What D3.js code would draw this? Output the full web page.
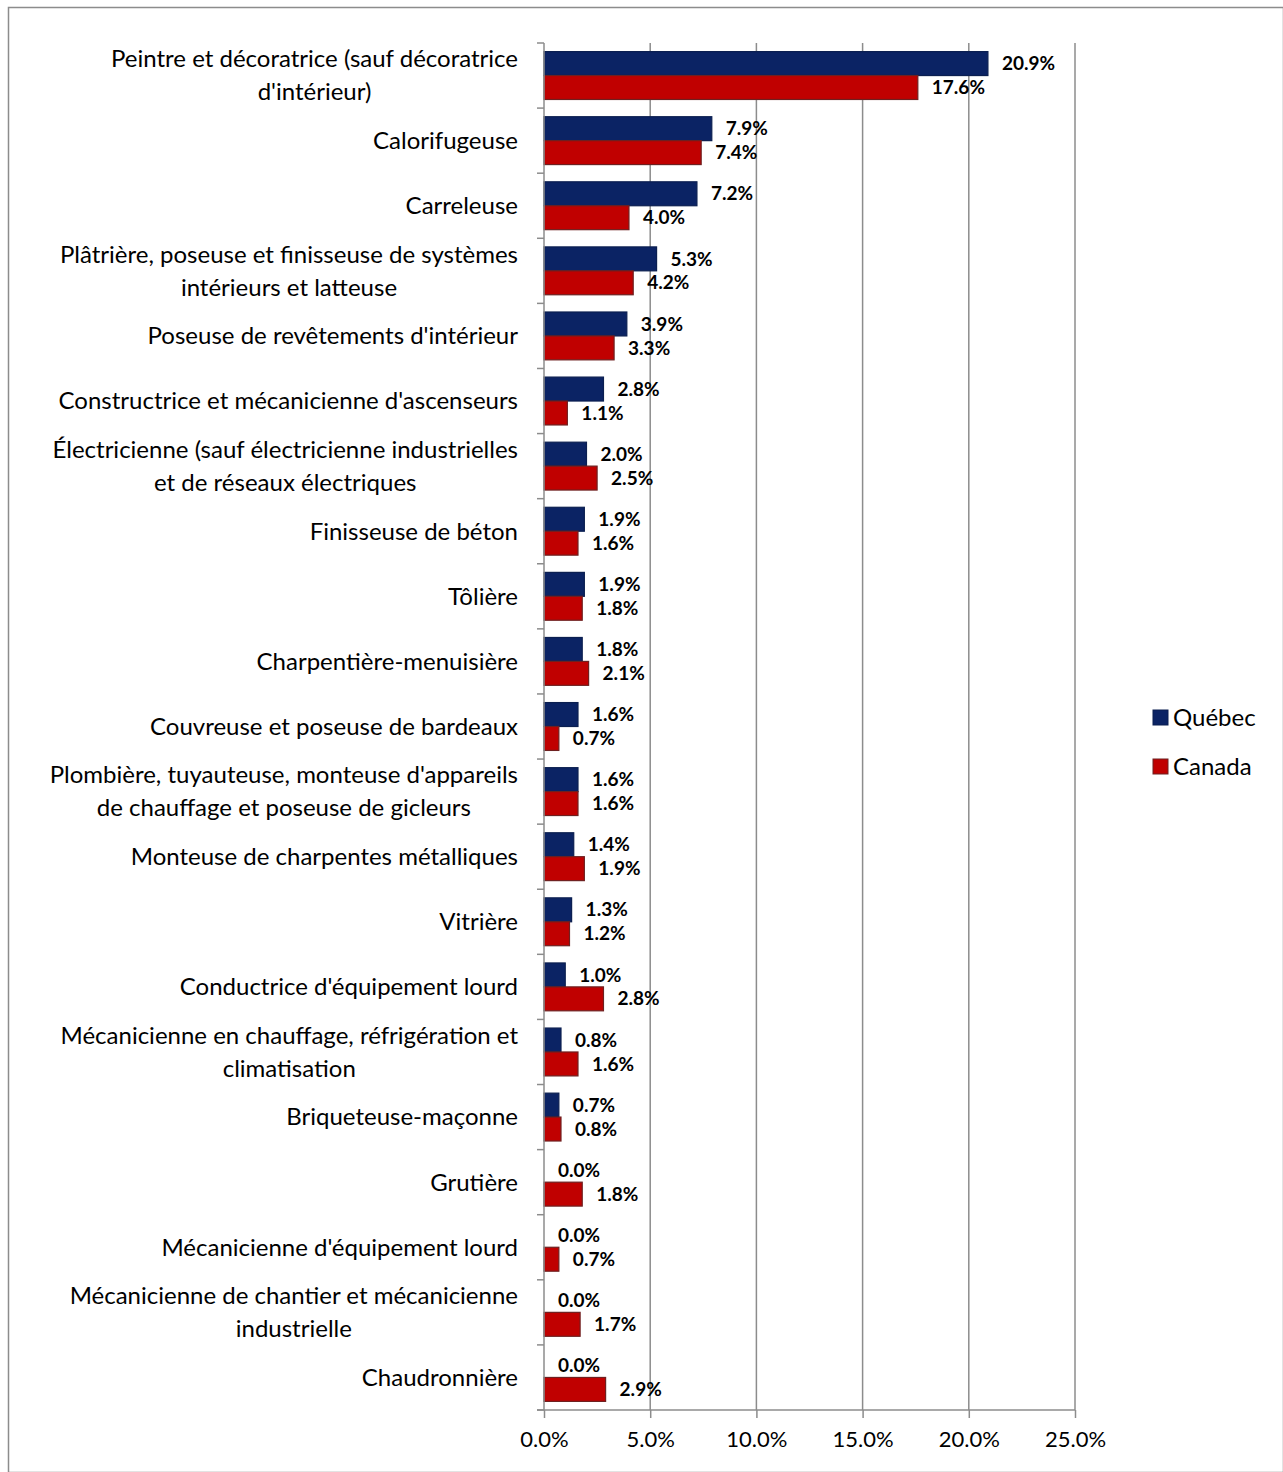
<!DOCTYPE html>
<html>
<head>
<meta charset="utf-8">
<script src="https://cdn.jsdelivr.net/npm/d3@7"></script>
<style>
  body { margin: 0; background: #fff; }
  text { font-family: Lato, "Open Sans", sans-serif; }
</style>
</head>
<body>
<div id="chart"></div>
<script>
// categories (one entry per line of the wrapped label)
var categories = [
  ["Peintre et décoratrice (sauf décoratrice", "d'intérieur)"],
  ["Calorifugeuse"],
  ["Carreleuse"],
  ["Plâtrière, poseuse et finisseuse de systèmes", "intérieurs et latteuse"],
  ["Poseuse de revêtements d'intérieur"],
  ["Constructrice et mécanicienne d'ascenseurs"],
  ["Électricienne (sauf électricienne industrielles", "et de réseaux électriques"],
  ["Finisseuse de béton"],
  ["Tôlière"],
  ["Charpentière-menuisière"],
  ["Couvreuse et poseuse de bardeaux"],
  ["Plombière, tuyauteuse, monteuse d'appareils", "de chauffage et poseuse de gicleurs"],
  ["Monteuse de charpentes métalliques"],
  ["Vitrière"],
  ["Conductrice d'équipement lourd"],
  ["Mécanicienne en chauffage, réfrigération et", "climatisation"],
  ["Briqueteuse-maçonne"],
  ["Grutière"],
  ["Mécanicienne d'équipement lourd"],
  ["Mécanicienne de chantier et mécanicienne", "industrielle"],
  ["Chaudronnière"]
];
var quebec = [20.9, 7.9, 7.2, 5.3, 3.9, 2.8, 2.0, 1.9, 1.9, 1.8, 1.6, 1.6, 1.4, 1.3, 1.0, 0.8, 0.7, 0.0, 0.0, 0.0, 0.0];
var canada = [17.6, 7.4, 4.0, 4.2, 3.3, 1.1, 2.5, 1.6, 1.8, 2.1, 0.7, 1.6, 1.9, 1.2, 2.8, 1.6, 0.8, 1.8, 0.7, 1.7, 2.9];
var seriesNames = ["Québec", "Canada"];
var xTicks = [0, 5, 10, 15, 20, 25];

var W = 1283, H = 1472;
var plotLeft = 544, plotRight = 1075, plotTop = 43, plotBottom = 1410;
var colors = ["#0b2364", "#c00000"];
var strokes = ["#0b1f50", "#6e2020"];

var svg = d3.select("#chart").append("svg").attr("width", W).attr("height", H);

// outer frame
svg.append("rect").attr("x", 8.5).attr("y", 7.5).attr("width", W - 8).attr("height", H - 7)
  .attr("fill", "none").attr("stroke", "#8c8c8c").attr("stroke-width", 1.5);

var x = d3.scaleLinear().domain([0, 25]).range([plotLeft, plotRight]);
var y = d3.scaleBand().domain(d3.range(categories.length)).range([plotTop, plotBottom]);
var inner = d3.scaleBand().domain([0, 1]).range([0, y.bandwidth()]).paddingOuter(0.36).paddingInner(0);

// vertical gridlines
svg.append("g").selectAll("line").data(xTicks.slice(1)).enter().append("line")
  .attr("x1", function (d) { return x(d); }).attr("x2", function (d) { return x(d); })
  .attr("y1", plotTop).attr("y2", plotBottom)
  .attr("stroke", "#8c8c8c").attr("stroke-width", 1.5);

// bars
var groups = svg.append("g").selectAll("g").data(categories).enter().append("g")
  .attr("transform", function (d, i) { return "translate(0," + y(i) + ")"; });

[quebec, canada].forEach(function (vals, s) {
  groups.append("rect")
    .attr("x", x(0))
    .attr("y", inner(s))
    .attr("width", function (d, i) { return x(vals[i]) - x(0); })
    .attr("height", inner.bandwidth())
    .attr("fill", colors[s])
    .attr("stroke", function (d, i) { return vals[i] > 0 ? strokes[s] : "none"; })
    .attr("stroke-width", 1.2);

  groups.append("text")
    .attr("x", function (d, i) { return x(vals[i]) + 14; })
    .attr("y", inner(s) + inner.bandwidth() / 2)
    .attr("dy", "0.35em")
    .attr("font-size", 19)
    .attr("font-weight", "bold")
    .attr("fill", "#000")
    .text(function (d, i) { return vals[i].toFixed(1) + "%"; });
});

// y axis line + ticks
svg.append("line").attr("x1", plotLeft).attr("x2", plotLeft).attr("y1", plotTop).attr("y2", plotBottom)
  .attr("stroke", "#8c8c8c").attr("stroke-width", 1.5);
svg.append("g").selectAll("line").data(d3.range(categories.length + 1)).enter().append("line")
  .attr("x1", plotLeft - 7).attr("x2", plotLeft)
  .attr("y1", function (d) { return plotTop + d * y.step(); })
  .attr("y2", function (d) { return plotTop + d * y.step(); })
  .attr("stroke", "#8c8c8c").attr("stroke-width", 1.5);

// x axis
var xAxis = svg.append("g").attr("transform", "translate(0," + plotBottom + ")")
  .call(d3.axisBottom(x).tickValues(xTicks).tickSize(8).tickPadding(13)
    .tickFormat(function (d) { return d.toFixed(1) + "%"; }));
xAxis.selectAll("path, line").attr("stroke", "#8c8c8c").attr("stroke-width", 1.5);
xAxis.select(".domain").attr("d", "M" + (plotLeft - 7) + ",0H" + plotRight);
xAxis.selectAll("text").attr("font-size", 22).attr("fill", "#000").style("font-family", "Lato, sans-serif");

// category labels (centered block, right aligned to axis)
var labelRight = 518, lineH = 33;
var labels = svg.append("g");
categories.forEach(function (lines, i) {
  var g = labels.append("g");
  var cy = y(i) + y.bandwidth() / 2;
  var t = g.selectAll("text").data(lines).enter().append("text")
    .attr("font-size", 24)
    .attr("fill", "#000")
    .attr("text-anchor", "middle")
    .attr("y", function (d, k) { return cy + (k - (lines.length - 1) / 2) * lineH; })
    .attr("dy", "0.35em")
    .text(function (d) { return d; });
  var maxW = 0;
  t.each(function () { maxW = Math.max(maxW, this.getComputedTextLength()); });
  t.attr("x", labelRight - maxW / 2);
});

// legend
var legend = svg.append("g").attr("transform", "translate(1153,710)");
seriesNames.forEach(function (name, s) {
  legend.append("rect").attr("x", 0).attr("y", s * 49).attr("width", 15).attr("height", 15)
    .attr("fill", colors[s]).attr("stroke", strokes[s]).attr("stroke-width", 1);
  legend.append("text").attr("x", 20).attr("y", s * 49 + 8).attr("dy", "0.35em")
    .attr("font-size", 24).attr("fill", "#000").text(name);
});
</script>
</body>
</html>
